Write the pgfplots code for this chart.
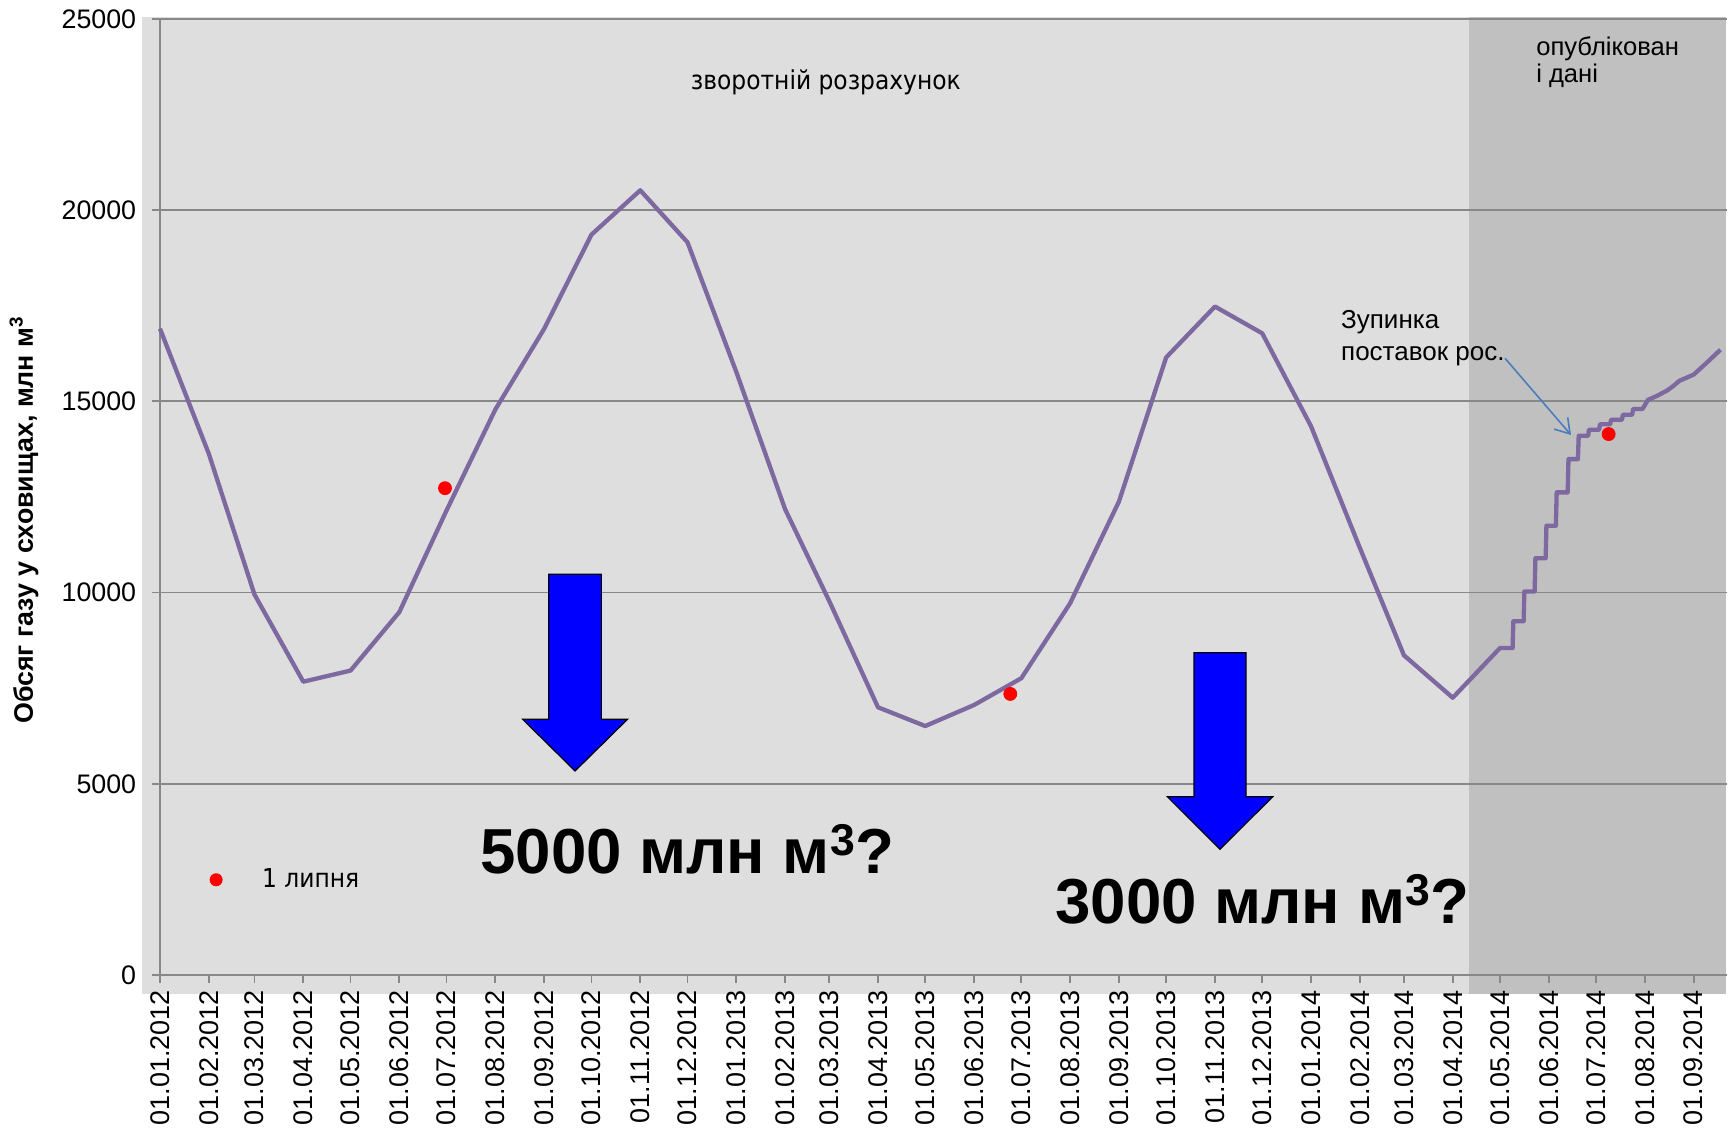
\documentclass[border=0pt]{standalone}
\usepackage{fontspec}
\setmainfont{Liberation Sans}
\newfontfamily\condfont{DejaVu Sans Condensed}
\usepackage{pgfplots}
\pgfplotsset{compat=1.18}
\usetikzlibrary{arrows.meta}

\definecolor{linepurple}{HTML}{7D68A0}
\definecolor{bglight}{HTML}{DEDEDE}
\definecolor{bgdark}{HTML}{C0C0C0}
\definecolor{gridgray}{HTML}{888888}
\definecolor{notebl}{HTML}{4A7EBB}

% x = days since 01.01.2012, y = gas in storage, mln m3
\pgfplotstableread{
day value
0 16900
31 13630
60 9950
91 7670
121 7960
152 9490
182 12150
213 14790
244 16900
274 19360
305 20520
335 19160
366 15770
397 12180
425 9780
456 7000
486 6510
517 7060
547 7760
578 9720
609 12380
639 16150
670 17480
700 16780
731 14350
762 11170
790 8360
821 7250
851 8550
859 8550
859.5 9250
866 9250
866.5 10030
873 10030
873.5 10900
880 10900
880.5 11750
886.5 11750
887 12620
894 12620
894.5 13490
900.5 13490
901 14100
907 14100
907.5 14260
914 14260
914.5 14400
921 14400
921.5 14520
928.5 14520
929 14650
935 14650
935.5 14800
941.5 14800
945 15040
951 15150
957 15280
961 15400
965 15540
969 15610
974 15700
982 16000
991 16350
}\storage

\pgfplotstableread{
day value
181 12730
540 7350
920 14145
}\julyone

\begin{document}
\begin{tikzpicture}
\begin{axis}[
  set layers,
  scale only axis,
  width=783.35pt, height=478pt,
  xmin=0, xmax=995, ymin=0, ymax=25000,
  clip=false,
  axis x line=bottom, axis y line=left,
  axis line style={-, draw=gridgray, line width=0.9pt},
  tick align=outside,
  major tick length=4pt,
  tick style={draw=gridgray, line width=0.9pt},
  ytick={0,5000,...,25000},
  scaled y ticks=false,
  ymajorgrids,
  grid style={draw=gridgray, line width=0.9pt},
  xtick={0,31,60,91,121,152,182,213,244,274,305,335,366,397,425,456,486,517,547,578,609,639,670,700,731,762,790,821,851,882,912,943,974},
  xticklabels={01.01.2012,01.02.2012,01.03.2012,01.04.2012,01.05.2012,01.06.2012,01.07.2012,01.08.2012,01.09.2012,01.10.2012,01.11.2012,01.12.2012,01.01.2013,01.02.2013,01.03.2013,01.04.2013,01.05.2013,01.06.2013,01.07.2013,01.08.2013,01.09.2013,01.10.2013,01.11.2013,01.12.2013,01.01.2014,01.02.2014,01.03.2014,01.04.2014,01.05.2014,01.06.2014,01.07.2014,01.08.2014,01.09.2014},
  xticklabel style={rotate=90, anchor=east, font=\fontsize{13.5}{15}\selectfont},
  yticklabel style={xshift=-4.4pt, font=\fontsize{13.4}{15}\selectfont},
  /pgf/number format/assume math mode=true,
  /pgf/number format/set thousands separator={},
  ylabel={Обсяг газу у сховищах, млн м\textsuperscript{3}},
  ylabel style={at={(rel axis cs:-0.0868,0.476)}, anchor=center, font=\bfseries\fontsize{13.4}{15}\selectfont},
  legend style={at={(axis cs:22.7,2490)}, anchor=west, draw=none, fill=none, inner sep=0pt,
    font=\condfont\fontsize{13}{15}\selectfont},
]
\begin{pgfonlayer}{axis background}
  \fill[bglight] (axis cs:-11.4,-497) rectangle (axis cs:831.3,25050);
  \fill[bgdark] (axis cs:831.3,-497) rectangle (axis cs:994.5,25050);
\end{pgfonlayer}

\addplot[linepurple, line width=2.15pt, line join=round, mark=none, forget plot] table[x=day, y=value] {\storage};
\addplot[only marks, mark=*, mark size=3.25pt, color=red, mark options={draw=none, fill=red},
  legend image code/.code={\path[draw=none, fill=none] (0pt,0pt) -- (31pt,0pt); \fill[red, draw=none] (10pt,0pt) circle (3.25pt);}]
  table[x=day, y=value] {\julyone};
\addlegendentry{1 липня}

% big downward arrows
\draw[fill=blue, draw=black, line width=0.6pt]
  (axis cs:246.9,10478) -- (axis cs:280.3,10478) -- (axis cs:280.3,6687) -- (axis cs:296.9,6687)
  -- (axis cs:263.6,5335) -- (axis cs:230.3,6687) -- (axis cs:246.9,6687) -- cycle;
\draw[fill=blue, draw=black, line width=0.6pt]
  (axis cs:656.7,8428) -- (axis cs:689.7,8428) -- (axis cs:689.7,4663) -- (axis cs:706.7,4663)
  -- (axis cs:673.2,3287) -- (axis cs:639.7,4663) -- (axis cs:656.7,4663) -- cycle;

\node[anchor=base west, inner sep=0pt, font=\bfseries\fontsize{31.8}{36}\selectfont]
  at (axis cs:203.2,2659) {5000 млн м\textsuperscript{3}?};
\node[anchor=base west, inner sep=0pt, font=\bfseries\fontsize{31.8}{36}\selectfont]
  at (axis cs:568.4,1334) {3000 млн м\textsuperscript{3}?};

\node[anchor=base, inner sep=0pt, font=\condfont\fontsize{13}{15}\selectfont]
  at (axis cs:422.9,23162) {зворотній розрахунок};
\node[anchor=base west, inner sep=0pt, font=\fontsize{12.8}{15}\selectfont]
  at (axis cs:873.8,24032) {опублікован};
\node[anchor=base west, inner sep=0pt, font=\fontsize{12.8}{15}\selectfont]
  at (axis cs:873.8,23326) {і дані};
\node[anchor=base west, inner sep=0pt, font=\fontsize{13}{15}\selectfont]
  at (axis cs:749.9,16911) {Зупинка};
\node[anchor=base west, inner sep=0pt, font=\fontsize{13}{15}\selectfont]
  at (axis cs:749.9,16056) {поставок рос.};
\draw[notebl, line width=0.8pt, -{Straight Barb[length=7pt,width=9pt]}]
  (axis cs:854.2,16127) -- (axis cs:896.1,14121);

\coordinate (bbbl) at (rel axis cs:-0.10213,-0.16004);
\coordinate (bbtr) at (rel axis cs:1.0053,1.01987);
\end{axis}
\pgfresetboundingbox
\path[use as bounding box] (bbbl) rectangle (bbtr);
\end{tikzpicture}
\end{document}
